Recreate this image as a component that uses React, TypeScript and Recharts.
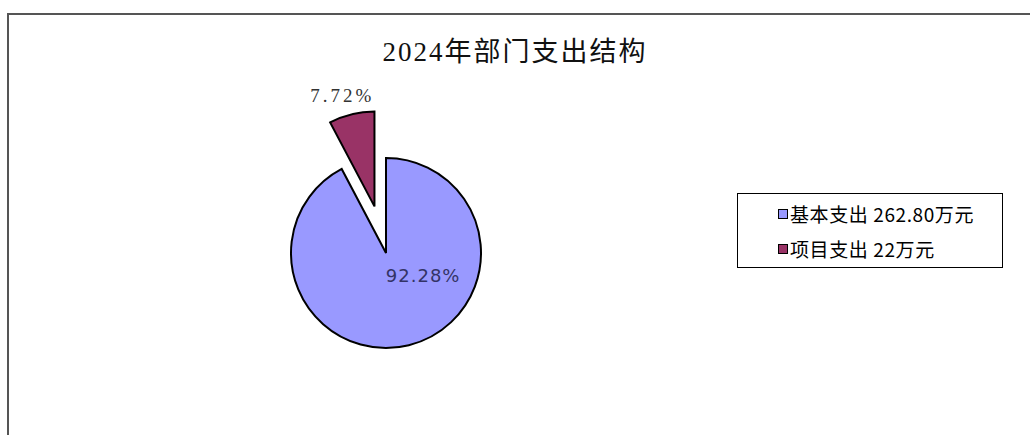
import React from 'react';
import { PieChart, Pie, Cell, Sector } from 'recharts';

const categories = ['基本支出', '项目支出'];
const amounts = [262.8, 22];
const amountLabels = ['262.80万元', '22万元'];
const percentLabels = ['92.28%', '7.72%'];
const colors = ['#9999FF', '#993366'];

const data = categories.map((name, i) => ({
  name,
  value: amounts[i],
  label: percentLabels[i],
  legend: `${name} ${amountLabels[i]}`,
}));

const RAD = Math.PI / 180;
const EXPLODE = 48;

const renderShape = (props: any) => {
  const { cx, cy, midAngle, index } = props;
  const off = index === 1 ? EXPLODE : 0;
  const x = cx + off * Math.cos(-midAngle * RAD);
  const y = cy + off * Math.sin(-midAngle * RAD);
  return <Sector {...props} cx={x} cy={y} />;
};

const renderLabel = (props: any) => {
  const { cx, cy, midAngle, outerRadius, index } = props;
  if (index === 0) {
    const r = outerRadius * 0.4;
    const x = cx + r * Math.cos(-midAngle * RAD) + 28;
    const y = cy + r * Math.sin(-midAngle * RAD) - 14;
    return (
      <text x={x} y={y} fill="#333366" fontSize={18} textAnchor="middle" dominantBaseline="central"
        fontFamily="'DejaVu Sans', sans-serif" letterSpacing={1}>
        {data[index].label}
      </text>
    );
  }
  const r = outerRadius + EXPLODE + 22;
  const x = cx + r * Math.cos(-midAngle * RAD) - 4;
  const y = cy + r * Math.sin(-midAngle * RAD) + 3;
  return (
    <text x={x} y={y} fill="#333" fontSize={19} textAnchor="middle" dominantBaseline="central"
      fontFamily="'Liberation Serif', serif" letterSpacing={3}>
      {data[index].label}
    </text>
  );
};

export default function App() {
  return (
    <div style={{ position: 'absolute', left: 0, top: 0, width: 1030, height: 435, background: '#fff', overflow: 'hidden' }}>
      <div style={{
        position: 'absolute', left: 7, top: 13, width: 1040, height: 440,
        borderLeft: '2px solid #555', borderTop: '2px solid #555',
      }} />
      <div style={{
        position: 'absolute', left: 0, top: 30, width: 1030, textAlign: 'center',
        fontFamily: "'Liberation Serif', 'Noto Sans CJK SC', serif", fontSize: 27, letterSpacing: 2, color: '#111',
      }}>
        2024年部门支出结构
      </div>
      <div style={{ position: 'absolute', left: 0, top: 0 }}>
        <PieChart width={1030} height={435} margin={{ top: 0, right: 0, bottom: 0, left: 0 }}>
          <Pie
            data={data}
            dataKey="value"
            nameKey="name"
            cx={386}
            cy={253}
            outerRadius={95}
            startAngle={90}
            endAngle={-270}
            stroke="#000"
            strokeWidth={2}
            shape={renderShape}
            label={renderLabel}
            labelLine={false}
            isAnimationActive={false}
          >
            {data.map((d, i) => (
              <Cell key={d.name} fill={colors[i]} />
            ))}
          </Pie>
        </PieChart>
      </div>
      <div style={{
        position: 'absolute', left: 737, top: 193,
        width: 266, height: 75,
        border: '1px solid #000',
        background: '#fff',
        boxSizing: 'border-box',
        fontFamily: "'Noto Sans CJK SC', sans-serif",
        fontSize: 19,
        letterSpacing: 0.6,
        color: '#000',
        paddingLeft: 40,
        paddingTop: 2,
      }}>
        {data.map((d, i) => (
          <div key={d.name} style={{ display: 'flex', alignItems: 'center', height: 35 }}>
            <span style={{
              display: 'inline-block',
              width: 8,
              height: 8,
              background: colors[i],
              border: '1px solid #000',
              marginRight: 2,
              flexShrink: 0,
            }} />
            <span style={{ whiteSpace: 'pre' }}>{d.legend}</span>
          </div>
        ))}
      </div>
    </div>
  );
}
